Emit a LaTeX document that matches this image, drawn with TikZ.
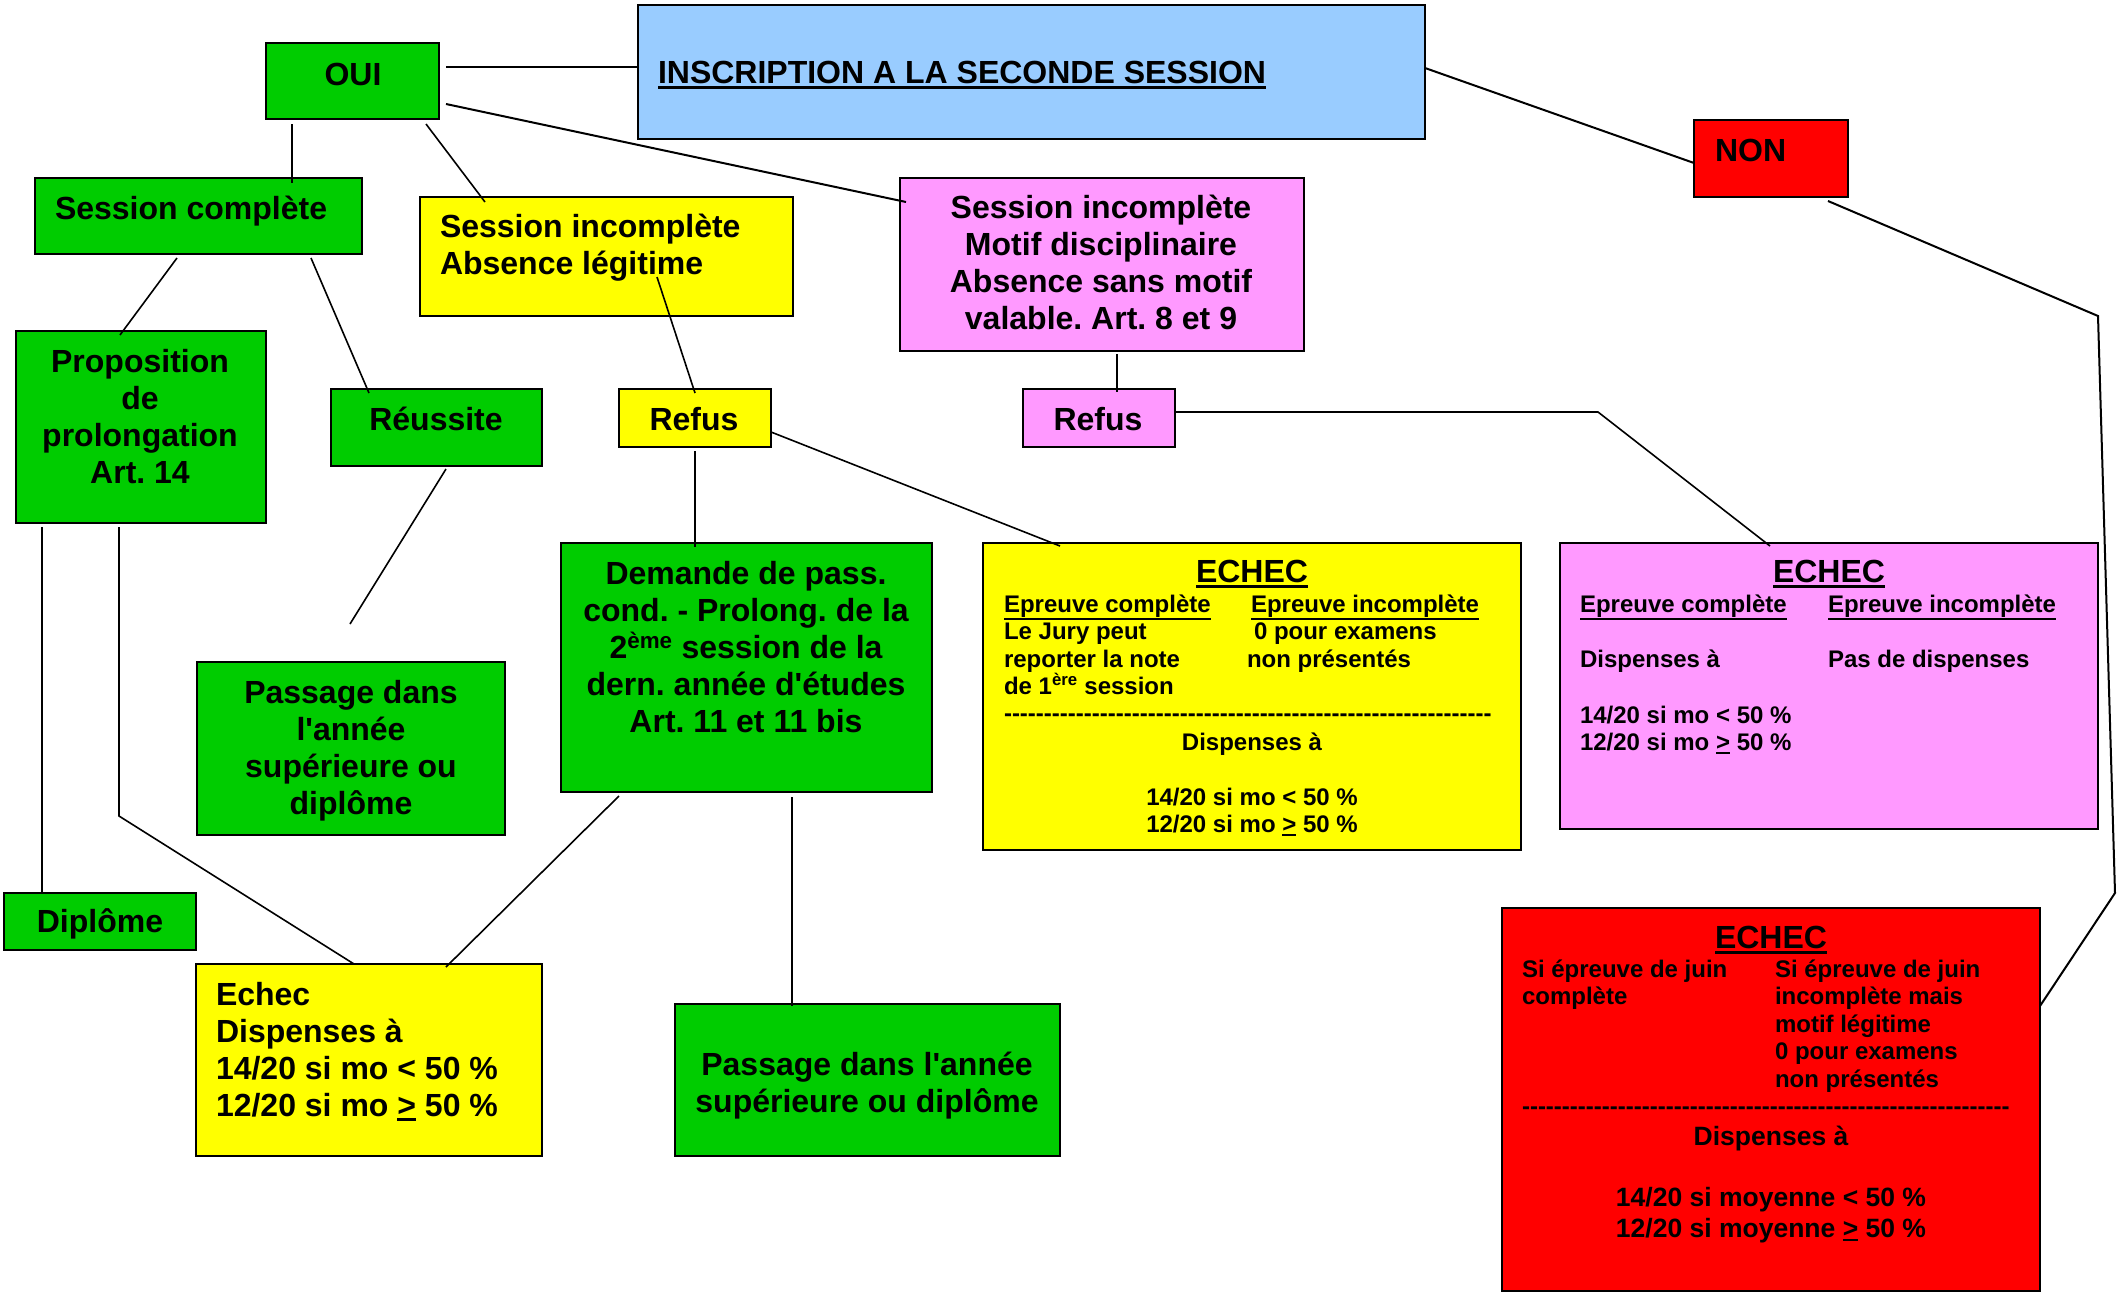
\documentclass[tikz,border=0pt]{standalone}
\usepackage{fontspec}
\setmainfont{Liberation Sans}[Ligatures=TeXOff]
\frenchspacing
\definecolor{cgreen}{HTML}{00CC00}
\definecolor{cyellow}{HTML}{FFFF00}
\definecolor{cpink}{HTML}{FF99FF}
\definecolor{cblue}{HTML}{99CCFF}
\definecolor{cred}{HTML}{FF0000}
\newcommand\ulx[3][3]{\leavevmode\setbox0=\hbox{#3}\rlap{\vrule width\wd0 height\dimexpr-\dp0-#1pt\relax depth\dimexpr\dp0+#1pt+#2pt\relax}\box0\relax}
\newcommand\fs{\rule{0pt}{26pt}}
\newcommand\ssx{\rule{0pt}{20pt}}
\newcommand\smx{\rule{0pt}{22pt}}
\newcommand\mkbox[6]{\node[box,fill=#2,minimum width={(#5-#3)*1pt},minimum height={(#6-#4)*1pt}] (#1) at (#3,#4) {};}
\begin{document}
\begin{tikzpicture}[x=1pt,y=-1pt,
  box/.style={draw=black,line width=2pt,anchor=north west,inner sep=0pt,outer sep=0pt},
  conn/.style={draw=black,line width=1.6pt},
  big/.style={font=\bfseries\fontsize{32}{37}\selectfont,inner sep=0pt,outer sep=0pt},
  sm/.style={font=\bfseries\fontsize{24}{27.5}\selectfont,inner sep=0pt,outer sep=0pt},
  md/.style={font=\bfseries\fontsize{26.5}{31}\selectfont,inner sep=0pt,outer sep=0pt}]
\useasboundingbox (0,0) rectangle (2118,1293);
% boxes
\mkbox{OUI}{cgreen}{266}{43}{439}{119}
\mkbox{INS}{cblue}{638}{5}{1425}{139}
\mkbox{NON}{cred}{1694}{120}{1848}{197}
\mkbox{SC}{cgreen}{35}{178}{362}{254}
\mkbox{SI}{cyellow}{420}{197}{793}{316}
\mkbox{SP}{cpink}{900}{178}{1304}{351}
\mkbox{PR}{cgreen}{16}{331}{266}{523}
\mkbox{RE}{cgreen}{331}{389}{542}{466}
\mkbox{RY}{cyellow}{619}{389}{771}{447}
\mkbox{RP}{cpink}{1023}{389}{1175}{447}
\mkbox{DE}{cgreen}{561}{543}{932}{792}
\mkbox{EY}{cyellow}{983}{543}{1521}{850}
\mkbox{EP}{cpink}{1560}{543}{2098}{829}
\mkbox{PL}{cgreen}{197}{662}{505}{835}
\mkbox{DI}{cgreen}{4}{893}{196}{950}
\mkbox{EL}{cyellow}{196}{964}{542}{1156}
\mkbox{PA}{cgreen}{675}{1004}{1060}{1156}
\mkbox{ER}{cred}{1502}{908}{2040}{1291}
% coordinates
\coordinate (nr1) at (2098,316);
\coordinate (nr2) at (2115,893);
\coordinate (rp1) at (1598,412);
\coordinate (pr1) at (119,816);
\coordinate (plend) at (350,624);
% connectors
\draw[conn,line width=2pt] ([shift={(7,24)}]OUI.north east) -- ([shift={(0,62)}]INS.north west);
\draw[conn,line width=2pt] ([shift={(7,61)}]OUI.north east) -- ([shift={(6,24)}]SP.north west);
\draw[conn] ([shift={(-13,5)}]OUI.south east) -- ([shift={(65,5)}]SI.north west);
\draw[conn] ([shift={(26,5)}]OUI.south west) -- ([shift={(257,5)}]SC.north west);
\draw[conn,line width=2pt] ([shift={(0,63)}]INS.north east) -- ([shift={(0,43)}]NON.north west);
\draw[conn,line width=2pt] ([shift={(-20,4)}]NON.south east) -- (nr1) -- (nr2) -- ([shift={(0,98)}]ER.north east);
\draw[conn] ([shift={(142,4)}]SC.south west) -- ([shift={(104,4)}]PR.north west);
\draw[conn] ([shift={(276,4)}]SC.south west) -- ([shift={(38,4)}]RE.north west);
\draw[conn] ([shift={(237,80)}]SI.north west) -- ([shift={(76,4)}]RY.north west);
\draw[conn] ([shift={(0,43)}]RY.north east) -- ([shift={(77,3)}]EY.north west);
\draw[conn] ([shift={(76,4)}]RY.south west) -- ([shift={(134,4)}]DE.north west);
\draw[conn] ([shift={(217,3)}]SP.south west) -- ([shift={(94,3)}]RP.north west);
\draw[conn] ([shift={(0,23)}]RP.north east) -- (rp1) -- ([shift={(210,3)}]EP.north west);
\draw[conn] ([shift={(115,3)}]RE.south west) -- (plend);
\draw[conn] ([shift={(26,4)}]PR.south west) -- ([shift={(38,0)}]DI.north west);
\draw[conn] ([shift={(103,4)}]PR.south west) -- (pr1) -- ([shift={(158,0)}]EL.north west);
\draw[conn] ([shift={(58,4)}]DE.south west) -- ([shift={(250,3)}]EL.north west);
\draw[conn] ([shift={(231,5)}]DE.south west) -- ([shift={(117,2)}]PA.north west);
% texts
\node[big,anchor=base] (tOUI) at (353,85) {OUI};
\node[big,anchor=base west] (tINS) at (658,83) {\ulx{3}{INSCRIPTION A LA SECONDE SESSION}};
\node[big,anchor=base west] (tNON) at (1715,161) {NON};
\node[big,anchor=base west] (tSC) at (55,219) {Session complète};
\node[big,anchor=north west,align=left] (tSI) at (440,211) {\fs Session incomplète\\Absence légitime};
\node[big,anchor=north,align=center] (tSP) at (1101,192) {\fs Session incomplète\\Motif disciplinaire\\Absence sans motif\\valable. Art. 8 et 9};
\node[big,anchor=north,align=center] (tPR) at (140,346) {\fs Proposition\\de\\prolongation\\Art. 14};
\node[big,anchor=base] (tRE) at (436,430) {Réussite};
\node[big,anchor=base] (tRY) at (694,430) {Refus};
\node[big,anchor=base] (tRP) at (1098,430) {Refus};
\node[big,anchor=north,align=center] (tDE) at (746,558) {\fs Demande de pass.\\cond. - Prolong. de la\\2\textsuperscript{ème} session de la\\dern. année d'études\\Art. 11 et 11 bis};
% ECHEC yellow
\node[big,anchor=base] (tEY) at (1252,582) {\ulx{3}{ECHEC}};
\node[sm,anchor=north west,align=left] (tEY1) at (1004,592) {\ssx\ulx[1]{2}{Epreuve complète}\\Le Jury peut\\reporter la note\\de 1\textsuperscript{ère} session};
\node[sm,anchor=north west,align=left] (tEY2) at (1251,592) {\ssx\ulx[1]{2}{Epreuve incomplète}\\\hspace*{3pt}0 pour examens\\\hspace*{-4pt}non présentés};
\node[sm,anchor=base west] (tEY3) at (1004,721) {-------------------------------------------------------------};
\node[sm,anchor=base] (tEY4) at (1252,750) {Dispenses à};
\node[sm,anchor=north,align=center] (tEY5) at (1252,785) {\ssx 14/20 si mo < 50 \%\\12/20 si mo \ulx[1]{2}{>} 50 \%};
% ECHEC pink
\node[big,anchor=base] (tEP) at (1829,582) {\ulx{3}{ECHEC}};
\node[sm,anchor=base west] (tEP1) at (1580,612) {\ulx[1]{2}{Epreuve complète}};
\node[sm,anchor=base west] (tEP2) at (1828,612) {\ulx[1]{2}{Epreuve incomplète}};
\node[sm,anchor=base west] (tEP3) at (1580,667) {Dispenses à};
\node[sm,anchor=base west] (tEP4) at (1828,667) {Pas de dispenses};
\node[sm,anchor=north west,align=left] (tEP5) at (1580,703) {\ssx 14/20 si mo < 50 \%\\12/20 si mo \ulx[1]{2}{>} 50 \%};
% ECHEC red
\node[big,anchor=base] (tER) at (1771,948) {\ulx{3}{ECHEC}};
\node[sm,anchor=north west,align=left] (tER1) at (1522,957) {\ssx Si épreuve de juin\\complète};
\node[sm,anchor=north west,align=left] (tER2) at (1775,957) {\ssx Si épreuve de juin\\incomplète mais\\motif légitime\\0 pour examens\\non présentés};
\node[sm,anchor=base west] (tER3) at (1522,1114) {-------------------------------------------------------------};
\node[md,anchor=base] (tER4) at (1771,1145) {Dispenses à};
\node[md,anchor=north,align=center] (tER5) at (1771,1184) {\smx 14/20 si moyenne < 50 \%\\12/20 si moyenne \ulx[1.5]{2}{>} 50 \%};
% lower left
\node[big,anchor=north,align=center] (tPL) at (351,677) {\fs Passage dans\\l'année\\supérieure ou\\diplôme};
\node[big,anchor=base] (tDI) at (100,932) {Diplôme};
\node[big,anchor=north west,align=left] (tEL) at (216,979) {\fs Echec\\Dispenses à\\14/20 si mo < 50 \%\\12/20 si mo \ulx[2]{2.5}{>} 50 \%};
\node[big,anchor=north,align=center] (tPA) at (867,1049) {\fs Passage dans l'année\\supérieure ou diplôme};
\end{tikzpicture}
\end{document}
